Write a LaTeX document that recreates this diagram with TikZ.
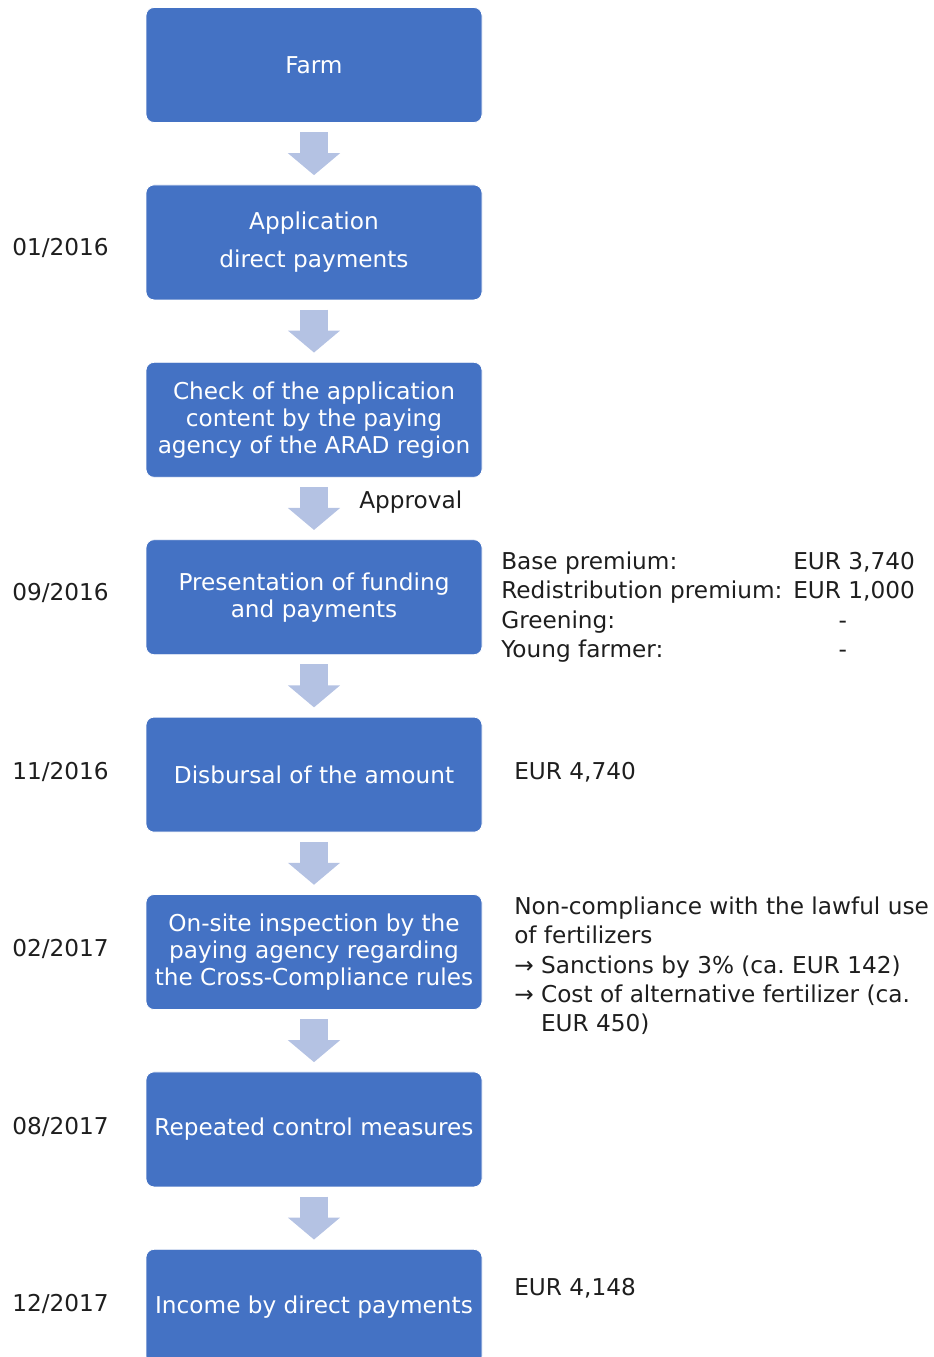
\documentclass[tikz,border=0pt]{standalone}
\usepackage{fontspec}
\setmainfont{DejaVu Sans}
\usetikzlibrary{arrows.meta}
\definecolor{boxblue}{HTML}{4472C4}
\definecolor{arrowblue}{HTML}{B4C2E3}
\definecolor{txtgray}{HTML}{1E1E1E}
\frenchspacing
\tikzset{
  stepbox/.style={rectangle,rounded corners=6pt,fill=boxblue,draw=white,line width=0.6pt,
    text=white,minimum width=252pt,minimum height=86.25pt,inner sep=2pt,align=center,
    font=\fontsize{17.4}{20.25}\selectfont},                      % process step
  flow/.style={arrowblue,line width=21pt,-{Triangle[length=16.5pt,width=38.25pt]},
    shorten <=7pt,shorten >=7pt},                                 % block arrow
  date/.style={anchor=west,inner sep=0pt,text=txtgray,font=\fontsize{17.4}{22}\selectfont},
  note/.style={anchor=west,inner sep=0pt,align=left,text=txtgray,font=\fontsize{17.4}{22}\selectfont},
}

\begin{document}
\begin{tikzpicture}[x=0.75pt,y=-0.75pt]
  \useasboundingbox (0,0) rectangle (934,1357);
  \clip (0,0) rectangle (934,1357);
  % process steps
  \node[stepbox] (farm) at (314,65) {Farm};
  \node[stepbox] (appl) at (314,242.4) {Application\\[8.25pt]direct payments};
  \node[stepbox] (check) at (314,419.8) {Check of the application\\content by the paying\\agency of the ARAD region};
  \node[stepbox] (pres) at (314,597.2) {Presentation of funding\\and payments};
  \node[stepbox] (disb) at (314,774.6) {Disbursal of the amount};
  \node[stepbox] (insp) at (314,952) {On-site inspection by the\\paying agency regarding\\the Cross-Compliance rules};
  \node[stepbox] (ctrl) at (314,1129.4) {Repeated control measures};
  \node[stepbox] (inc) at (314,1306.8) {Income by direct payments};
  \foreach \a/\b in {farm/appl,appl/check,check/pres,pres/disb,disb/insp,insp/ctrl,ctrl/inc}
    \draw[flow] (\a.south) -- (\b.north);
  \node[note] (appr) at (359,502) {Approval};
  % dates
  \node[date] (d1) at (12,248) {01/2016};
  \node[date] (d2) at (12,593) {09/2016};
  \node[date] (d3) at (12,772) {11/2016};
  \node[date] (d4) at (12,949) {02/2017};
  \node[date] (d5) at (12,1127) {08/2017};
  \node[date] (d6) at (12,1304) {12/2017};
  % amounts
  \node[note] (prem) at (501,607) {\makebox[219pt][l]{Base premium:}EUR 3,740\\
    \makebox[219pt][l]{Redistribution premium:}EUR 1,000\\
    \makebox[253pt][l]{Greening:}-\\
    \makebox[253pt][l]{Young farmer:}-};
  \node[note] (paid) at (514,772) {EUR 4,740};
  \node[note] (sanc) at (514,966) {Non-compliance with the lawful use\\of fertilizers\\
    → Sanctions by 3\% (ca. EUR 142)\\→ Cost of alternative fertilizer (ca.\\
    \phantom{→ }EUR 450)};
  \node[note] (net) at (514,1288) {EUR 4,148};
\end{tikzpicture}
\end{document}
